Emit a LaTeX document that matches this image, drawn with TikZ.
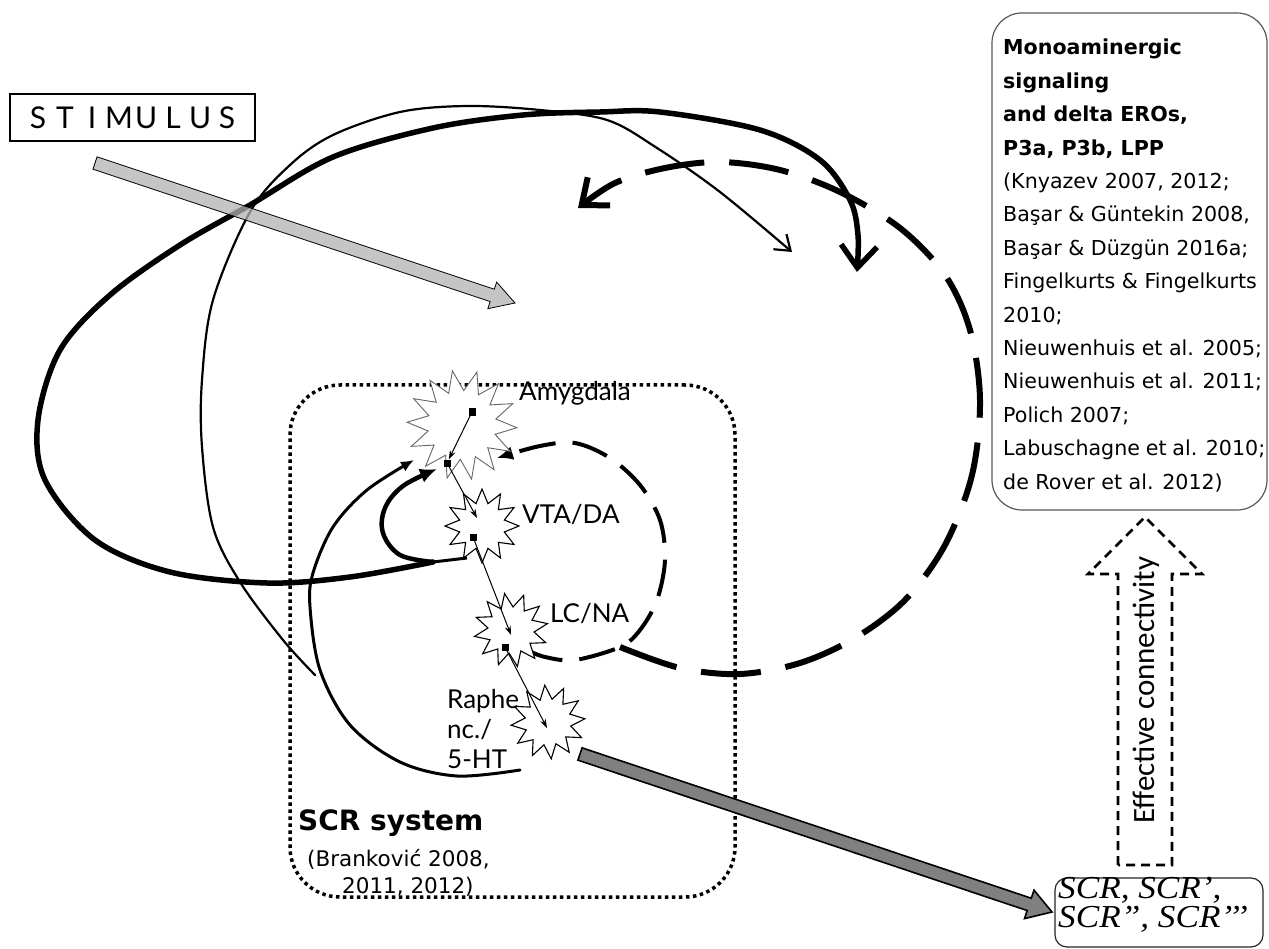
\documentclass[tikz,border=0pt]{standalone}
\usepackage{fontspec}
\usetikzlibrary{arrows.meta,shapes.geometric,calc}
\newfontfamily\verd{DejaVu Sans}
\newfontfamily\comic{Lato}
\newfontfamily\calib{Carlito}
\newfontfamily\tnr[FakeStretch=1.1]{Liberation Serif}
\newcommand\myblockarrow[6]{%
  \coordinate (bahead) at ($(#3)!#5!(#2)$);
  \draw[#1] ($(#2)!#4!90:(#3)$) -- ($(bahead)!#4!90:(#3)$) -- ($(bahead)!#6!90:(#3)$) -- (#3)
    -- ($(bahead)!#6!-90:(#3)$) -- ($(bahead)!#4!-90:(#3)$) -- ($(#2)!#4!-90:(#3)$) -- cycle;
}
\newcommand\spaced[1]{\makebox[27pt]{#1}}
\begin{document}
\begin{tikzpicture}[x=1pt,y=-1pt,
  thinc/.style={line width=2.2pt, line cap=round},
  thickc/.style={line width=5.5pt, line cap=round},
  midc/.style={line width=3pt, line cap=round},
  loopc/.style={line width=4.5pt, line cap=round},
  bigdash/.style={line width=6pt, dash pattern=on 60pt off 25pt},
  smalldash/.style={line width=4pt, dash pattern=on 37pt off 17pt},
  starnode/.style={star, star point ratio=1.6, draw, fill=white, inner sep=0pt, line width=1.1pt},
  sq/.style={fill=black, minimum size=7pt, inner sep=0pt},
  innerarr/.style={line width=1pt, -{Stealth[length=9pt,width=6pt]}},
  lab/.style={font=\comic\fontsize{26}{30}\selectfont},
  refs/.style={font=\verd\fontsize{20.6}{33.4}\selectfont},
]
\useasboundingbox[fill=white] (0,0) rectangle (1269,949);

% SCR system dotted box
\node[draw, line width=3.5pt, dash pattern=on 3.5pt off 3.5pt, rounded corners=50pt,
      minimum width=445pt, minimum height=512pt, inner sep=0pt] (sys) at (512.5,641) {};

% Stimulus box
\node[draw, line width=1.6pt, minimum width=245pt, minimum height=47pt, inner sep=0pt,
      font=\comic\fontsize{30}{32}\selectfont] (stim) at (132.5,117.5)
  {\spaced S\spaced T\spaced I\spaced M\spaced U\spaced L\spaced U\spaced S};

% coordinates
\coordinate (vtaJ) at (433,562);
\coordinate (vtaE) at (467,558);
\coordinate (thickEnd) at (857,272);
\coordinate (thinStart) at (315,675);
\coordinate (thinEnd) at (792,252);
\coordinate (rapheS) at (520,770);
\coordinate (amyL) at (414,460);
\coordinate (amyB) at (437,469);
\coordinate (lcR) at (527,650);
\coordinate (amyR) at (497,458);
\coordinate (dashJ) at (620,647);
\coordinate (dashEnd) at (578,208);

% big thin curve
\draw[thinc, -{Straight Barb[length=14pt,width=20pt]}] plot[smooth, tension=0.55] coordinates {
  (thinStart) (283,640) (240,582) (213,527) (202,447) (202,380) (213,300) (250,212) (290,165)
  (333,135) (400,112) (467,106) (540,110) (607,120) (657,148) (720,192) (thinEnd)};

% big thick curve
\draw[line width=3pt] (vtaE) -- (vtaJ);
\draw[thickc, -{Straight Barb[length=22pt,width=36pt]}] plot[smooth, tension=0.55] coordinates {
  (vtaJ) (350,577) (267,583) (170,572) (95,540) (45,480) (38,420) (60,350) (110,295) (180,245)
  (250,205) (333,157) (433,128) (523,115) (600,112) (660,112) (760,130) (820,160) (850,200)
  (858,235) (thickEnd)};

% raphe loop
\draw[midc, -{Latex[length=13pt,width=11pt]}] plot[smooth, tension=0.55] coordinates {
  (rapheS) (457,776) (400,762) (350,725) (320,670) (310,607) (313,573) (333,527) (367,490) (amyL)};

% small VTA loop
\draw[loopc, -{Latex[length=17pt,width=15pt]}] plot[smooth, tension=0.6] coordinates {
  (vtaJ) (400,555) (383,533) (385,508) (403,486) (amyB)};

% small dashed loop
\draw[smalldash, -{Latex[length=16pt,width=14pt]}] plot[smooth, tension=0.55] coordinates {
  (lcR) (545,657) (575,660) (dashJ) (640,630) (657,600) (665,560) (660,520) (640,485) (610,458)
  (575,443) (540,446) (amyR)};

% big dashed curve
\draw[bigdash, -{Straight Barb[length=22pt,width=36pt]}] plot[smooth, tension=0.55] coordinates {
  (dashJ) (680,668) (740,674) (800,663) (855,638) (905,600) (945,545) (972,475) (980,400)
  (970,330) (945,275) (900,228) (840,192) (780,170) (720,162) (665,168) (615,183) (dashEnd)};

% stars
\node[starnode, star points=14, minimum size=110pt, draw=gray!80!black, line width=0.9pt, shape border rotate=10] (amy) at (462,425) {};
\node[starnode, star points=12, minimum size=74pt] (vta) at (482,526) {};
\node[starnode, star points=12, minimum size=74pt, shape border rotate=10] (lc) at (511,630) {};
\node[starnode, star points=12, minimum size=74pt, shape border rotate=5] (raphe) at (548,722) {};

% inner squares and arrows
\node[sq] (a1) at (472,412) {};
\node[sq] (a2) at (447,463) {};
\node[sq] (v1) at (473,537) {};
\node[sq] (l1) at (505,647) {};
\coordinate (vtip) at (477,518);
\coordinate (ltip) at (511,635);
\coordinate (rtip) at (547,728);
\draw[innerarr] (a1) -- ($(a2)!4pt!(a1)$);
\draw[innerarr] (a2) -- (vtip);
\draw[innerarr] (v1) -- (ltip);
\draw[innerarr] (l1) -- (rtip);

% labels
\node[lab, anchor=base west, inner sep=0pt] at (519,400) {Amygdala};
\node[lab, anchor=base west, inner sep=0pt] at (522,523) {VTA/DA};
\node[lab, anchor=base west, inner sep=0pt] at (550,622) {LC/NA};
\node[lab, anchor=base west, inner sep=0pt] at (447,708) {\parbox[t]{100pt}{Raphe\\nc./\\5-HT}};

% SCR system text
\node[anchor=base west, inner sep=0pt, font=\verd\bfseries\fontsize{28}{32}\selectfont] at (298,830) {SCR system};
\node[anchor=base west, inner sep=0pt, font=\verd\fontsize{21.5}{27}\selectfont] at (307,866)
  {\parbox[t]{250pt}{(Branković 2008,\\\hspace*{35pt}2011, 2012)}};

% monoaminergic box
\node[draw=gray!70!black, line width=1.2pt, rounded corners=30pt, minimum width=275pt,
      minimum height=497pt, inner sep=0pt] (mono) at (1129.5,261.5) {};
\node[refs, anchor=base west, inner sep=0pt] at (1003,55) {\parbox[t]{262pt}{\raggedright
  \textbf{Monoaminergic}\\\textbf{signaling}\\\textbf{and delta EROs,}\\\textbf{P3a, P3b, LPP}\\
  (Knyazev 2007, 2012;\\Başar \& Güntekin 2008,\\Başar \& Düzgün 2016a;\\Fingelkurts \& Fingelkurts\\
  2010;\\Nieuwenhuis et al. 2005;\\Nieuwenhuis et al. 2011;\\Polich 2007;\\Labuschagne et al. 2010;\\
  de Rover et al. 2012)}};

% SCR box
\node[draw=black!85, line width=1.2pt, rounded corners=12pt, minimum width=208pt,
      minimum height=69pt, inner sep=0pt] (scr) at (1159,912.5) {};
\node[anchor=base west, inner sep=0pt, font=\tnr\itshape\fontsize{32}{29}\selectfont] at (1058,898)
  {\parbox[t]{205pt}{SCR, SCR’,\\SCR”, SCR’’’}};

% gray arrow from stimulus
\coordinate (stimA) at (95,163);
\coordinate (stimB) at (515,303);
\myblockarrow{draw=black, line width=0.8pt, fill=gray!60, fill opacity=0.75}{stimA}{stimB}{6.5pt}{24pt}{14pt}

% gray arrow from raphe to SCR
\coordinate (rapA) at (580,754);
\coordinate (rapB) at (1052,912);
\myblockarrow{draw=black, line width=1.6pt, fill=gray}{rapA}{rapB}{6.5pt}{24pt}{15pt}

% effective connectivity arrow
\coordinate (ecB) at (1145,865);
\coordinate (ecT) at (1145,517);
\myblockarrow{draw=black, line width=2.6pt, dash pattern=on 9pt off 6pt}{ecB}{ecT}{27pt}{57pt}{57pt}
\node[rotate=90, font=\calib\fontsize{31}{34}\selectfont, inner sep=0pt] at (1146,690) {Effective connectivity};
\end{tikzpicture}
\end{document}
